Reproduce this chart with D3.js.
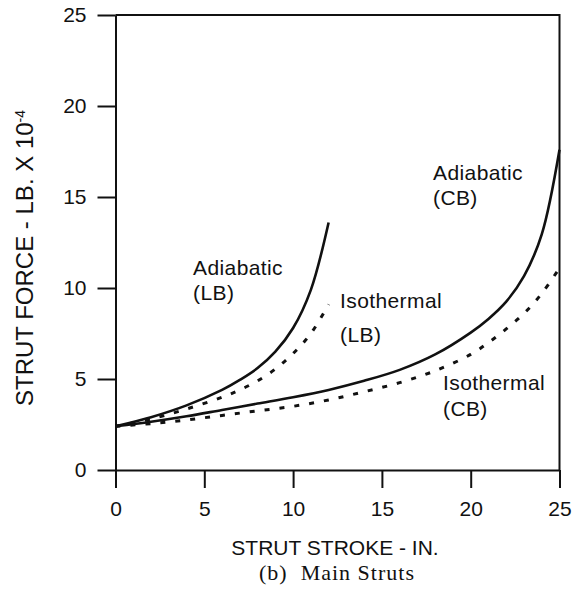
<!DOCTYPE html>
<html>
<head>
<meta charset="utf-8">
<script src="https://cdn.jsdelivr.net/npm/d3@7"></script>
<style>
  body { margin: 0; background: #fff; }
  text { font-family: "Liberation Sans", Arial, Helvetica, sans-serif; fill: #111; }
</style>
</head>
<body>
<div id="container"></div>
<script>
const width = 574,
  height = 604,
  margin = { top: 15, bottom: 134, left: 115.5, right: 14 }

// DATA
const xTicks = [0, 5, 10, 15, 20, 25]
const yTicks = [0, 5, 10, 15, 20, 25]

const adiabaticLBx = [0, 2, 4, 6, 7, 8, 9, 10, 11, 12]
const adiabaticLBy = [2.4, 2.9, 3.55, 4.4, 4.95, 5.6, 6.5, 7.8, 9.9, 13.6]

const isothermalLBx = [0, 2, 4, 6, 7, 8, 9, 10, 11, 12]
const isothermalLBy = [2.4, 2.8, 3.35, 4.0, 4.4, 4.9, 5.55, 6.4, 7.5, 9.1]

const adiabaticCBx = [0, 2, 4, 6, 8, 10, 12, 14, 16, 18, 20, 21, 22, 23, 24, 25]
const adiabaticCBy = [2.4, 2.65, 2.95, 3.3, 3.65, 4.0, 4.4, 4.9, 5.5, 6.35, 7.55, 8.3, 9.25, 10.65, 12.95, 17.6]

const isothermalCBx = [0, 2, 4, 6, 8, 10, 12, 14, 16, 18, 20, 21, 22, 23, 24, 25]
const isothermalCBy = [2.4, 2.55, 2.75, 3.0, 3.25, 3.5, 3.85, 4.3, 4.8, 5.45, 6.35, 7.0, 7.75, 8.6, 9.7, 11.1]

const series = [
  { name: "adiabaticLB", xs: adiabaticLBx, ys: adiabaticLBy, dashed: false },
  { name: "isothermalLB", xs: isothermalLBx, ys: isothermalLBy, dashed: true },
  { name: "adiabaticCB", xs: adiabaticCBx, ys: adiabaticCBy, dashed: false },
  { name: "isothermalCB", xs: isothermalCBx, ys: isothermalCBy, dashed: true }
]

// SCALES
const xScale = d3.scaleLinear()
  .domain([0, 25])
  .range([margin.left, width - margin.right - 0.5])

const yScale = d3.scaleLinear()
  .domain([0, 25])
  .range([height - margin.bottom, margin.top])

// SVG
const svg = d3.select("#container")
  .append("svg")
  .attr("width", width)
  .attr("height", height)

// AXES
const xAxis = d3.axisBottom(xScale)
  .tickValues(xTicks)
  .tickSize(18)
  .tickPadding(13)
  .tickSizeOuter(0)
svg.append("g")
  .attr("transform", `translate(0,${height - margin.bottom})`)
  .call(xAxis)
  .call(g => g.selectAll("text").style("font-size", "21px"))

const yAxis = d3.axisLeft(yScale)
  .tickValues(yTicks)
  .tickSize(18)
  .tickPadding(11)
  .tickSizeOuter(0)
svg.append("g")
  .attr("transform", `translate(${margin.left},0)`)
  .call(yAxis)
  .call(g => g.selectAll("text").style("font-size", "21px"))

svg.selectAll(".domain, .tick line")
  .attr("stroke", "#111")
  .attr("stroke-width", 2)

// top and right frame
svg.append("path")
  .attr("fill", "none")
  .attr("stroke", "#111")
  .attr("stroke-width", 2)
  .attr("d", `M${xScale(0)},${yScale(25)}H${xScale(25)}V${yScale(0)}`)

// LINES
const lineGen = d3.line()
  .x(d => xScale(d[0]))
  .y(d => yScale(d[1]))
  .curve(d3.curveCatmullRom.alpha(0.5))

svg.selectAll(".line")
  .data(series)
  .join("path")
  .attr("class", "line")
  .attr("fill", "none")
  .attr("stroke", "#111")
  .attr("stroke-width", d => d.dashed ? 3 : 2.6)
  .attr("stroke-dasharray", d => d.dashed ? "5,10" : null)
  .attr("d", d => lineGen(d.xs.map((x, i) => [x, d.ys[i]])))

// CURVE LABELS
const labels = [
  { x: 193, y: 275, t: "Adiabatic" }, { x: 193, y: 300, t: "(LB)" },
  { x: 340, y: 308, t: "Isothermal" }, { x: 340, y: 342, t: "(LB)" },
  { x: 433, y: 180, t: "Adiabatic" }, { x: 433, y: 205, t: "(CB)" },
  { x: 443, y: 390, t: "Isothermal" }, { x: 443, y: 416, t: "(CB)" }
]
svg.selectAll(".lbl")
  .data(labels)
  .join("text")
  .attr("class", "lbl")
  .attr("x", d => d.x)
  .attr("y", d => d.y)
  .style("font-size", "21px")
  .style("letter-spacing", "0.4px")
  .text(d => d.t)

// AXIS TITLES
svg.append("text")
  .attr("x", 335)
  .attr("y", 555)
  .attr("text-anchor", "middle")
  .style("font-size", "21px")
  .text("STRUT STROKE - IN.")

svg.append("text")
  .attr("x", 337)
  .attr("y", 580)
  .attr("text-anchor", "middle")
  .attr("xml:space", "preserve")
  .style("font-family", "'Liberation Serif', 'Times New Roman', serif")
  .style("font-size", "22px")
  .style("letter-spacing", "1px")
  .text("(b)  Main Struts")

const yTitle = svg.append("text")
  .attr("transform", "translate(33,258) rotate(-90)")
  .attr("text-anchor", "middle")
  .style("font-size", "24px")
yTitle.append("tspan").text("STRUT FORCE - LB. X 10")
yTitle.append("tspan")
  .attr("dy", "-0.55em")
  .style("font-size", "14px")
  .text("-4")
</script>
</body>
</html>
